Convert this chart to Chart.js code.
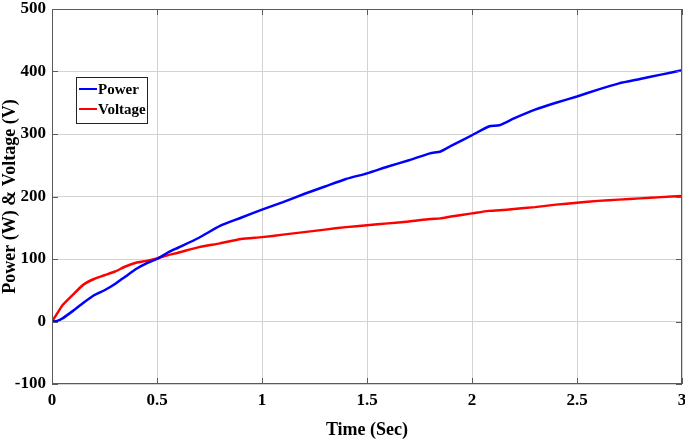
<!DOCTYPE html>
<html>
<head>
<meta charset="utf-8">
<script src="https://cdn.jsdelivr.net/npm/chart.js@4"></script>
<style>
html,body{margin:0;padding:0;background:#fff;}
#wrap{width:685px;height:441px;position:relative;}
</style>
</head>
<body>
<div id="wrap"><canvas id="c" width="685" height="441"></canvas></div>
<script>
const timeSec = [0, 0.025, 0.05, 0.1, 0.15, 0.2, 0.25, 0.3, 0.35, 0.4, 0.45, 0.5, 0.55, 0.6, 0.7, 0.8, 0.9, 1.0, 1.1, 1.2, 1.3, 1.4, 1.5, 1.6, 1.7, 1.8, 1.85, 1.9, 2.0, 2.08, 2.13, 2.2, 2.3, 2.4, 2.5, 2.6, 2.7, 2.8, 2.9, 3.0];
const powerW  = [0, 1, 5, 17, 30, 42, 50, 60, 72, 84, 93, 100, 110, 118, 134, 153, 166, 179, 191, 204, 216, 228, 237, 248, 258, 269, 272, 281, 298, 312, 314, 325, 339, 350, 360, 371, 381, 388, 395, 402];
const voltageV= [0, 13, 26, 43, 59, 68, 74, 80, 88, 94, 97, 101, 106, 110, 119, 125, 132, 135, 139, 143, 147, 151, 154, 157, 160, 164, 165, 168, 173, 177, 178, 180, 183, 187, 190, 193, 195, 197, 199, 201];
const seriesNames = ['Power', 'Voltage'];
const seriesColors = ['#0000ff', '#ff0000'];
const xTicks = [0, 0.5, 1, 1.5, 2, 2.5, 3];
const yTicks = [-100, 0, 100, 200, 300, 400, 500];

const FONT = '"Liberation Serif", "Times New Roman", serif';

function pts(xs, ys){ return xs.map((x,i)=>({x:x, y:ys[i]})); }

const framePlugin = {
  id:'frame',
  afterDraw(chart){
    const {ctx, chartArea:a} = chart;
    ctx.save();
    ctx.strokeStyle = '#5a5a5a';
    ctx.lineWidth = 1;
    ctx.strokeRect(a.left+0.5, a.top+0.5, a.right-a.left-1, a.bottom-a.top-1);
    const xs = chart.scales.x, ys = chart.scales.y;
    xTicks.forEach(v=>{
      const px = Math.round(xs.getPixelForValue(v))+0.5;
      ctx.beginPath(); ctx.moveTo(px,a.bottom); ctx.lineTo(px,a.bottom-6); ctx.stroke();
      ctx.beginPath(); ctx.moveTo(px,a.top); ctx.lineTo(px,a.top+6); ctx.stroke();
    });
    yTicks.forEach(v=>{
      const py = Math.round(ys.getPixelForValue(v))+0.5;
      ctx.beginPath(); ctx.moveTo(a.left,py); ctx.lineTo(a.left+6,py); ctx.stroke();
      ctx.beginPath(); ctx.moveTo(a.right,py); ctx.lineTo(a.right-6,py); ctx.stroke();
    });
    // legend box
    const lx = a.left + 24, ly = a.top + 68, lw = 71, lh = 46;
    ctx.fillStyle = '#fff';
    ctx.fillRect(lx, ly, lw, lh);
    ctx.strokeStyle = '#222';
    ctx.lineWidth = 1;
    ctx.strokeRect(lx+0.5, ly+0.5, lw, lh);
    ctx.font = 'bold 15px ' + FONT;
    ctx.textBaseline = 'middle';
    chart.data.datasets.forEach((ds,i)=>{
      const yy = ly + 12 + i*20;
      ctx.strokeStyle = ds.borderColor;
      ctx.lineWidth = 2;
      ctx.beginPath(); ctx.moveTo(lx+3, yy); ctx.lineTo(lx+21, yy); ctx.stroke();
      ctx.fillStyle = '#000';
      ctx.fillText(ds.label, lx+22, yy+1);
    });
    ctx.restore();
  }
};

new Chart(document.getElementById('c'), {
  type:'line',
  data:{
    datasets:[
      {label:seriesNames[0], data:pts(timeSec, powerW), borderColor:seriesColors[0], backgroundColor:seriesColors[0], borderWidth:2.5, pointRadius:0, tension:0.2, fill:false},
      {label:seriesNames[1], data:pts(timeSec, voltageV), borderColor:seriesColors[1], backgroundColor:seriesColors[1], borderWidth:2.5, pointRadius:0, tension:0.2, fill:false}
    ]
  },
  options:{
    responsive:false,
    animation:false,
    layout:{padding:{top:9, right:3, left:0, bottom:0}},
    plugins:{legend:{display:false}, tooltip:{enabled:false}},
    scales:{
      x:{
        type:'linear', min:0, max:3,
        afterBuildTicks(s){ s.ticks = xTicks.map(v=>({value:v})); },
        ticks:{color:'#000', font:{family:FONT, size:17, weight:'bold'}, padding:6, maxRotation:0,
               callback:v=>String(v)},
        grid:{color:'#d3d3d3', lineWidth:1, drawTicks:false},
        border:{display:false},
        title:{display:true, text:'Time (Sec)', color:'#000', font:{family:FONT, size:18, weight:'bold'}, padding:{top:2,bottom:0}},
        afterFit(s){ s.height = 57; s.paddingLeft = 0; s.paddingRight = 0; }
      },
      y:{
        type:'linear', min:-100, max:500,
        afterBuildTicks(s){ s.ticks = yTicks.map(v=>({value:v})); },
        ticks:{color:'#000', font:{family:FONT, size:17, weight:'bold'}, padding:6, callback:v=>String(v)},
        grid:{color:'#d3d3d3', lineWidth:1, drawTicks:false},
        border:{display:false},
        title:{display:true, text:'Power (W) & Voltage (V)', color:'#000', font:{family:FONT, size:18, weight:'bold'}, padding:{top:0,bottom:4}},
        afterFit(s){ s.width = 52; s.paddingTop = 0; s.paddingBottom = 0; }
      }
    }
  },
  plugins:[framePlugin]
});
</script>
</body>
</html>
